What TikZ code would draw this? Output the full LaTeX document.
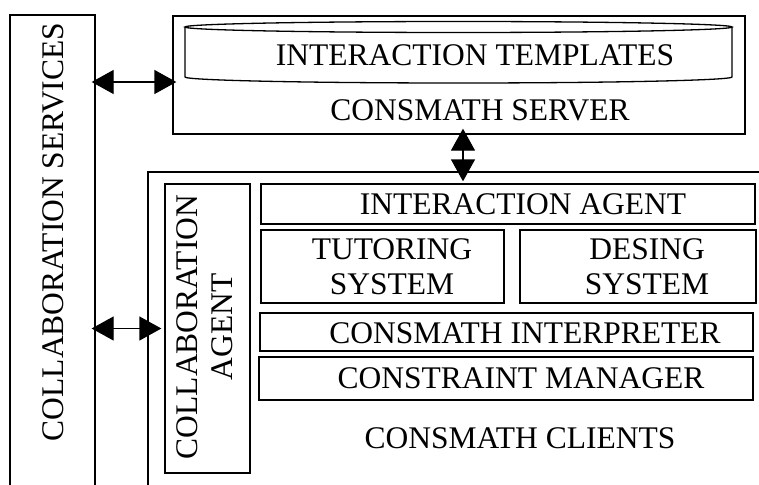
\documentclass[tikz,border=0pt]{standalone}
\usepackage{fontspec}
\setmainfont{Liberation Serif}
\usetikzlibrary{calc,arrows.meta}

\begin{document}
\begin{tikzpicture}[x=1pt,y=-1pt]

% Each block is specified as:
% \block{name}{x}{y}{width}{height}
\newcommand{\block}[5]{%
  \node[block, minimum width=#4, minimum height=#5]
    (#1) at ($(#2,#3)+(#4/2,#5/2)$) {};
}

\tikzset{
  block/.style={
    draw=black,
    line width=1.3pt,
    inner sep=0pt
  },
  caption/.style={
    font=\fontsize{31.5}{35}\selectfont,
    align=center,
    inner sep=0pt
  },
  link/.style={
    {Triangle[length=22pt,width=24pt]}-{Triangle[length=22pt,width=24pt]},
    line width=1.3pt
  }
}

% Frame of the picture; outer boxes run past it.
\clip (0,0) rectangle (759,484);
\fill[white] (0,0) rectangle (759,484);

% Blocks.
\block{services}{10}{15}{85}{510}
\block{server}{173}{16}{572}{118}
\block{clients}{148}{172}{660}{360}
\block{agent}{165}{184}{85}{289}
\block{interaction}{261}{184}{494}{40}
\block{tutoring}{261}{230}{243}{73}
\block{design}{520}{230}{236}{73}
\block{interpreter}{260}{313}{493}{38}
\block{constraints}{259}{357}{494}{43}

% Template store inside the server.
\draw[line width=1.3pt] (185,27) -- (185,77)
  arc[start angle=180, end angle=0, x radius=273.5, y radius=6] -- (732,27);
\draw[line width=1.3pt] (458.5,27) ellipse[x radius=273.5, y radius=5.5];

% Captions.
\node[caption, rotate=90] (services-t) at (53,232) {COLLABORATION SERVICES};
\node[caption] (templates-t) at (475,55) {INTERACTION TEMPLATES};
\node[caption] (server-t) at (480,110) {CONSMATH SERVER};
\node[caption, rotate=90] (agent-t) at (205,327) {COLLABORATION\\AGENT};
\node[caption] (interaction-t) at (523,204) {INTERACTION AGENT};
\node[caption] (tutoring-t) at (392,266.5) {TUTORING\\SYSTEM};
\node[caption] (design-t) at (647,266.5) {DESING\\SYSTEM};
\node[caption] (interpreter-t) at (525,333) {CONSMATH INTERPRETER};
\node[caption] (constraints-t) at (521,378) {CONSTRAINT MANAGER};
\node[caption] (clients-t) at (520,438) {CONSMATH CLIENTS};

% Links.
\coordinate (srv-in) at ($(server.west)+(0,7)$);
\draw[link, shorten <=-4pt, shorten >=-4pt] (srv-in -| services.east) -- (srv-in);
\draw[link, shorten <=-4pt, shorten >=3pt] (agent.west -| services.east) -- (agent.west);
\coordinate (srv-out) at ($(server.south)+(4,0)$);
\draw[link, shorten <=-6pt, shorten >=2pt] (srv-out) -- (srv-out |- interaction.north);

\end{tikzpicture}
\end{document}
